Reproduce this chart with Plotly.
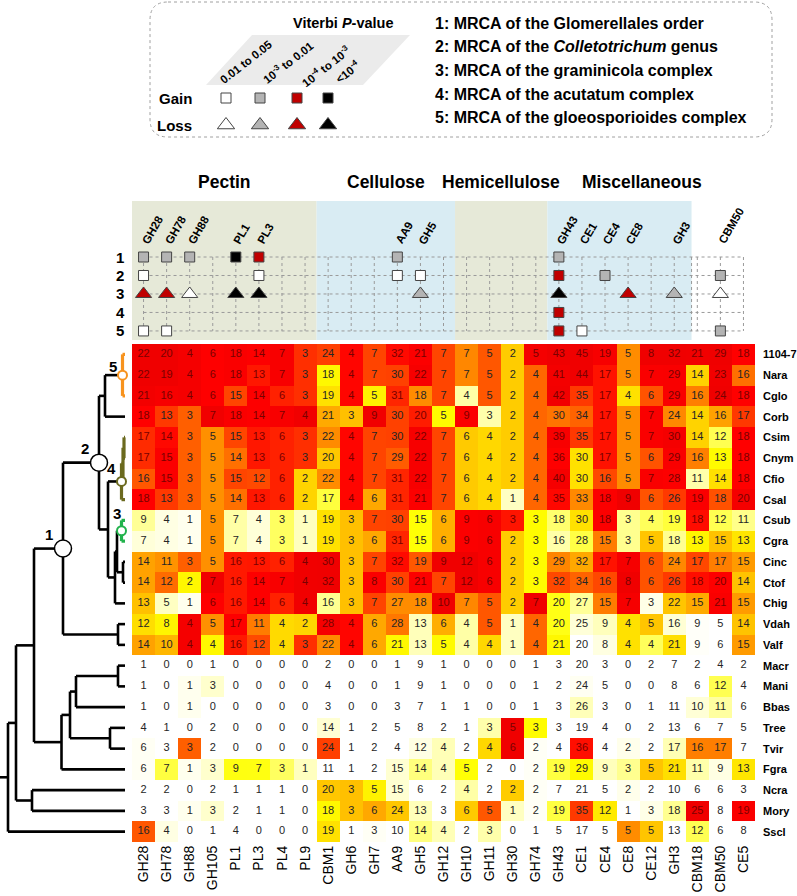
import numpy as np
import plotly.graph_objects as go

FONT = "Arial, 'Liberation Sans', sans-serif"
W, H = 797, 896

# ---------------- data ----------------
families = ["GH28", "GH78", "GH88", "GH105", "PL1", "PL3", "PL4", "PL9", "CBM1", "GH6", "GH7",
            "AA9", "GH5", "GH12", "GH10", "GH11", "GH30", "GH74", "GH43", "CE1", "CE4", "CE8",
            "CE12", "GH3", "CBM18", "CBM50", "CE5"]

species = ["1104-7", "Nara", "Cglo", "Corb", "Csim", "Cnym", "Cfio", "Csal", "Csub", "Cgra",
           "Cinc", "Ctof", "Chig", "Vdah", "Valf", "Macr", "Mani", "Bbas", "Tree", "Tvir",
           "Fgra", "Ncra", "Mory", "Sscl"]

r_1104_7 = [22, 20, 4, 6, 18, 14, 7, 3, 24, 4, 7, 32, 21, 7, 7, 5, 2, 5, 43, 45, 19, 5, 8, 32, 21, 29, 18]
r_nara = [22, 19, 4, 6, 18, 13, 7, 3, 18, 4, 7, 30, 22, 7, 7, 5, 2, 4, 41, 44, 17, 5, 7, 29, 14, 23, 16]
r_cglo = [21, 16, 4, 6, 15, 14, 6, 3, 19, 4, 5, 31, 18, 7, 4, 5, 2, 4, 42, 35, 17, 4, 6, 29, 16, 24, 18]
r_corb = [18, 13, 3, 7, 18, 14, 7, 4, 21, 3, 9, 30, 20, 5, 9, 3, 2, 4, 30, 34, 17, 5, 7, 24, 14, 16, 17]
r_csim = [17, 14, 3, 5, 15, 13, 6, 3, 22, 4, 7, 30, 22, 7, 6, 4, 2, 4, 39, 35, 17, 5, 7, 30, 14, 12, 18]
r_cnym = [17, 15, 3, 5, 14, 13, 6, 3, 20, 4, 7, 29, 22, 7, 6, 4, 2, 4, 36, 30, 17, 5, 6, 29, 16, 13, 18]
r_cfio = [16, 15, 3, 5, 15, 12, 6, 2, 22, 4, 7, 31, 22, 7, 6, 4, 2, 4, 40, 30, 16, 5, 7, 28, 11, 14, 18]
r_csal = [18, 13, 3, 5, 14, 13, 6, 2, 17, 4, 6, 31, 21, 7, 6, 4, 1, 4, 35, 33, 18, 9, 6, 26, 19, 18, 20]
r_csub = [9, 4, 1, 5, 7, 4, 3, 1, 19, 3, 7, 30, 15, 6, 9, 6, 3, 3, 18, 30, 18, 3, 4, 19, 18, 12, 11]
r_cgra = [7, 4, 1, 5, 7, 4, 3, 1, 19, 3, 6, 31, 15, 6, 9, 6, 2, 3, 16, 28, 15, 3, 5, 18, 13, 15, 13]
r_cinc = [14, 11, 3, 5, 16, 13, 6, 4, 30, 3, 7, 32, 19, 9, 12, 6, 2, 3, 29, 32, 17, 7, 6, 24, 17, 17, 15]
r_ctof = [14, 12, 2, 7, 16, 14, 7, 4, 32, 3, 8, 30, 21, 7, 12, 6, 2, 3, 32, 34, 16, 8, 6, 26, 18, 20, 14]
r_chig = [13, 5, 1, 6, 16, 14, 6, 4, 16, 3, 7, 27, 18, 10, 7, 5, 2, 7, 20, 27, 15, 7, 3, 22, 15, 21, 15]
r_vdah = [12, 8, 4, 5, 17, 11, 4, 2, 28, 4, 6, 28, 13, 6, 4, 5, 1, 4, 20, 25, 9, 4, 5, 16, 9, 5, 14]
r_valf = [14, 10, 4, 4, 16, 12, 4, 3, 22, 4, 6, 21, 13, 5, 4, 4, 1, 4, 21, 20, 8, 4, 4, 21, 9, 6, 15]
r_macr = [1, 0, 0, 1, 0, 0, 0, 0, 2, 0, 0, 1, 9, 1, 0, 0, 0, 1, 3, 20, 3, 0, 2, 7, 2, 4, 2]
r_mani = [1, 0, 1, 3, 0, 0, 0, 0, 4, 0, 0, 1, 9, 1, 0, 0, 0, 1, 2, 24, 5, 0, 0, 8, 6, 12, 4]
r_bbas = [1, 0, 1, 0, 0, 0, 0, 0, 3, 0, 0, 3, 7, 1, 1, 0, 0, 1, 3, 26, 3, 0, 1, 11, 10, 11, 6]
r_tree = [4, 1, 0, 2, 0, 0, 0, 0, 14, 1, 2, 5, 8, 2, 1, 3, 5, 3, 3, 19, 4, 0, 2, 13, 6, 7, 5]
r_tvir = [6, 3, 3, 2, 0, 0, 0, 0, 24, 1, 2, 4, 12, 4, 2, 4, 6, 2, 4, 36, 4, 2, 2, 17, 16, 17, 7]
r_fgra = [6, 7, 1, 3, 9, 7, 3, 1, 11, 1, 2, 15, 14, 4, 5, 2, 0, 2, 19, 29, 9, 3, 5, 21, 11, 9, 13]
r_ncra = [2, 2, 0, 2, 1, 1, 1, 0, 20, 3, 5, 15, 6, 2, 4, 2, 2, 2, 7, 21, 5, 2, 2, 10, 6, 6, 3]
r_mory = [3, 3, 1, 3, 2, 1, 1, 0, 18, 3, 6, 24, 13, 3, 6, 5, 1, 2, 19, 35, 12, 1, 3, 18, 25, 8, 19]
r_sscl = [16, 4, 0, 1, 4, 0, 0, 0, 19, 1, 3, 10, 14, 4, 2, 3, 0, 1, 5, 17, 5, 5, 5, 13, 12, 6, 8]

# gain / loss events at ancestral nodes (level: 1=0.01-0.05, 2=1e-3-0.01, 3=1e-4-1e-3, 4=<1e-4)
ev_node = [1, 1, 1, 1, 1, 1, 1,
           2, 2, 2, 2, 2, 2, 2,
           3, 3, 3, 3, 3, 3, 3, 3, 3, 3,
           4,
           5, 5, 5, 5, 5]
ev_family = ["GH28", "GH78", "GH88", "PL1", "PL3", "AA9", "GH43",
             "GH28", "PL3", "AA9", "GH5", "GH43", "CE4", "CBM50",
             "GH28", "GH78", "GH88", "PL1", "PL3", "GH5", "GH43", "CE8", "GH3", "CBM50",
             "GH43",
             "GH28", "GH78", "GH43", "CE1", "CBM50"]
ev_kind = ["gain"] * 14 + ["loss"] * 10 + ["gain"] * 6
ev_level = [2, 2, 2, 4, 3, 2, 2,
            1, 1, 1, 1, 3, 2, 2,
            3, 3, 1, 4, 4, 2, 4, 3, 2, 1,
            3,
            1, 1, 3, 1, 2]

groups = ["Pectin", "Cellulose", "Hemicellulose", "Miscellaneous"]
group_span = [(-0.5, 7.5), (7.5, 13.5), (13.5, 17.5), (17.5, 23.75)]
group_label_x = [3.5, 10.5, 15.5, 21.6]
group_fill = ["#e6e9d8", "#d9ecf3", "#e6e9d8", "#d9ecf3"]

level_names = ["0.01 to 0.05", "10<sup>-3</sup> to 0.01", "10<sup>-4</sup> to 10<sup>-3</sup>", "&lt;10<sup>-4</sup>"]
level_colors = ["#ffffff", "#b4b4b4", "#c00000", "#000000"]

node_desc = ["1: MRCA of the Glomerellales order",
             "2: MRCA of the <i>Colletotrichum</i> genus",
             "3: MRCA of the graminicola complex",
             "4: MRCA of the acutatum complex",
             "5: MRCA of the gloeosporioides complex"]

# phylogeny: (name, depth_px, children)
tree = ("root", 8, [
    ("a", 16, [
        ("b", 34, [
            ("n1", 63, [
                ("n2", 99, [
                    ("gl", 105, [("n5", 122.5, ["1104-7", "Nara", "Cglo"]), "Corb"]),
                    ("r", 108, [
                        ("n4", 121.5, [("x4", 123, [("x4b", 124, ["Csim", "Cnym"]), "Cfio"]), "Csal"]),
                        ("r2", 115, [("r3", 117, [("n3", 121.5, ["Csub", "Cgra"]),
                                                  ("ct", 123, ["Cinc", "Ctof"])]), "Chig"])])]),
                ("vv", 118, ["Vdah", "Valf"])]),
            ("out", 61.5, [("o2", 70, [("o3", 76, [("mm", 118, ["Macr", "Mani"]), "Bbas"]),
                                       ("tt", 110, ["Tree", "Tvir"])]), "Fgra"])]),
        ("nm", 32, ["Ncra", "Mory"])]),
    "Sscl"])
LEAF_X = 125
clade_color = {"n5": "#f7931e", "n4": "#6b6a1f", "n3": "#22b24c"}

counts = np.array([r_1104_7, r_nara, r_cglo, r_corb, r_csim, r_cnym, r_cfio, r_csal, r_csub,
                   r_cgra, r_cinc, r_ctof, r_chig, r_vdah, r_valf, r_macr, r_mani, r_bbas,
                   r_tree, r_tvir, r_fgra, r_ncra, r_mory, r_sscl], dtype=float)

# ---------------- figure ----------------
nr, nc = counts.shape
zs = (counts - counts.mean(axis=0)) / counts.std(axis=0)

cs = [[0.0, "#ffffff"], [0.22, "#ffffff"], [0.30, "#ffffd2"], [0.385, "#ffff96"],
      [0.465, "#ffff00"], [0.55, "#ffd200"], [0.615, "#ffa800"], [0.685, "#ff7800"],
      [0.75, "#ff3c00"], [0.815, "#ff0000"], [1.0, "#f00000"]]

fig = go.Figure()
fig.add_trace(go.Heatmap(z=zs, x=list(range(nc)), y=list(range(nr)), colorscale=cs,
                         zmin=-1.5, zmax=1.5, showscale=False, hoverinfo="skip",
                         xaxis="x", yaxis="y"))

xx, yy = np.meshgrid(range(nc), range(nr))
tcol = np.where(zs > 0.8, "#7a0000", "#262626").ravel()
fig.add_trace(go.Scatter(x=xx.ravel(), y=yy.ravel(), mode="text",
                         text=[str(int(v)) for v in counts.ravel()],
                         textfont=dict(size=11, color=list(tcol), family=FONT),
                         hoverinfo="skip", xaxis="x", yaxis="y"))

# --- tree ---
segs = {}
node_pos = {}


def add_seg(color, xs, ys):
    d = segs.setdefault(color, ([], []))
    d[0].extend(xs + [None])
    d[1].extend(ys + [None])


def draw(node, parent_x, outer_color):
    if isinstance(node, str):
        y = species.index(node)
        add_seg(outer_color, [parent_x, LEAF_X], [y, y])
        return y
    name, x, kids = node
    inner = clade_color.get(name, outer_color)
    ys = [draw(k, x, inner) for k in kids]
    y = (min(ys) + max(ys)) / 2
    add_seg(inner, [x, x], [min(ys), max(ys)])
    add_seg(outer_color, [parent_x, x], [y, y])
    node_pos[name] = (x, y)
    return y


draw(tree, 0, "#000000")
for color, (sx, sy) in segs.items():
    fig.add_trace(go.Scatter(x=sx, y=sy, mode="lines", hoverinfo="skip",
                             line=dict(color=color, width=2.6 if color == "#000000" else 3.2),
                             xaxis="x2", yaxis="y"))

big = ["n1", "n2"]
fig.add_trace(go.Scatter(x=[node_pos[n][0] for n in big], y=[node_pos[n][1] for n in big],
                         mode="markers", hoverinfo="skip",
                         marker=dict(size=17, color="white", line=dict(color="black", width=1.5)),
                         xaxis="x2", yaxis="y"))
small = ["n5", "n4", "n3"]
fig.add_trace(go.Scatter(x=[node_pos[n][0] for n in small], y=[node_pos[n][1] for n in small],
                         mode="markers", hoverinfo="skip",
                         marker=dict(size=9, color="white",
                                     line=dict(color=[clade_color[n] for n in small], width=2)),
                         xaxis="x2", yaxis="y"))

annotations = []
lab_off = {"n1": ("1", -14, 14), "n2": ("2", -14, 14), "n4": ("4", -10, 13),
           "n3": ("3", -5, 17), "n5": ("5", -10, 9)}
for n, (t, dx, dy) in lab_off.items():
    annotations.append(dict(x=node_pos[n][0], y=node_pos[n][1], xref="x2", yref="y",
                            text=f"<b>{t}</b>", showarrow=False, xshift=dx, yshift=dy,
                            font=dict(size=15, family=FONT, color="black")))

# species names to the right of the heatmap
for i, s in enumerate(species):
    annotations.append(dict(x=761, y=i, xref="x3", yref="y", text=f"<b>{s}</b>",
                            showarrow=False, xanchor="left",
                            font=dict(size=11, family=FONT, color="black")))

# --- gain/loss panel ---
gx, gy = [], []
for r in range(1, 6):
    gx += [0, nc - 1, None]
    gy += [r, r, None]
for c in range(nc):
    gx += [c, c, None]
    gy += [1, 5, None]
gx += [23.75, 23.75, None]
gy += [1, 5, None]
fig.add_trace(go.Scatter(x=gx, y=gy, mode="lines", hoverinfo="skip",
                         line=dict(color="#9a9a9a", width=1, dash="dot"),
                         xaxis="x", yaxis="y2"))

for kind, sym, size in [("gain", "square", 10), ("loss", "triangle-up", 14)]:
    idx = [i for i, k in enumerate(ev_kind) if k == kind]
    fig.add_trace(go.Scatter(
        x=[families.index(ev_family[i]) for i in idx], y=[ev_node[i] for i in idx],
        mode="markers", hoverinfo="skip",
        marker=dict(symbol=sym, size=size, color=[level_colors[ev_level[i] - 1] for i in idx],
                    line=dict(color="#444444", width=1)),
        xaxis="x", yaxis="y2"))

labelled = [f for f in families if f in ev_family]
for f in labelled:
    annotations.append(dict(x=families.index(f), y=0.55, xref="x", yref="y2",
                            text=f"<b>{f}</b>", showarrow=False, textangle=-60,
                            xanchor="left", yanchor="bottom", xshift=-7,
                            font=dict(size=11.5, family=FONT, color="black")))
for r in range(1, 6):
    annotations.append(dict(x=120, y=r, xref="x3", yref="y2", text=f"<b>{r}</b>",
                            showarrow=False, font=dict(size=15, family=FONT, color="black")))

shapes = []
for (x0, x1), col in zip(group_span, group_fill):
    shapes.append(dict(type="rect", xref="x", yref="y3", x0=x0, x1=x1, y0=201, y1=340,
                       fillcolor=col, line=dict(width=0), layer="below"))
for g, gxp in zip(groups, group_label_x):
    annotations.append(dict(x=gxp, y=182, xref="x", yref="y3", text=f"<b>{g}</b>",
                            showarrow=False, font=dict(size=17.5, family=FONT, color="black")))

# --- top legend box ---
bx0, bx1, by0, by1, rad = 150, 772, 2, 137, 18
box_path = (f"M {bx0 + rad},{by0} L {bx1 - rad},{by0} Q {bx1},{by0} {bx1},{by0 + rad} "
            f"L {bx1},{by1 - rad} Q {bx1},{by1} {bx1 - rad},{by1} L {bx0 + rad},{by1} "
            f"Q {bx0},{by1} {bx0},{by1 - rad} L {bx0},{by0 + rad} Q {bx0},{by0} {bx0 + rad},{by0} Z")
shapes.append(dict(type="path", xref="x3", yref="y3", path=box_path,
                   line=dict(color="#a0a0a0", width=1, dash="dot"), fillcolor="rgba(0,0,0,0)"))
shapes.append(dict(type="path", xref="x3", yref="y3",
                   path="M 252,35 L 410,35 L 363,85 L 206,85 Z",
                   fillcolor="#ebebeb", line=dict(width=0), layer="below"))

leg_x = [226, 260, 297, 328]
lab_pos = [(246, 62), (288, 62), (326, 66), (347, 72)]
for t, (lx, ly) in zip(level_names, lab_pos):
    annotations.append(dict(x=lx, y=ly, xref="x3", yref="y3", text=f"<b>{t}</b>",
                            showarrow=False, textangle=-38,
                            font=dict(size=11.5, family=FONT, color="black")))
fig.add_trace(go.Scatter(x=leg_x, y=[98] * 4, mode="markers", hoverinfo="skip",
                         marker=dict(symbol="square", size=10, color=level_colors,
                                     line=dict(color="#444444", width=1)),
                         xaxis="x3", yaxis="y3"))
fig.add_trace(go.Scatter(x=leg_x, y=[125] * 4, mode="markers", hoverinfo="skip",
                         marker=dict(symbol="triangle-up", size=15, color=level_colors,
                                     line=dict(color="#444444", width=1)),
                         xaxis="x3", yaxis="y3"))
annotations.append(dict(x=194, y=98, xref="x3", yref="y3", text="<b>Gain</b>", showarrow=False,
                        xanchor="right", font=dict(size=15, family=FONT, color="black")))
annotations.append(dict(x=194, y=125, xref="x3", yref="y3", text="<b>Loss</b>", showarrow=False,
                        xanchor="right", font=dict(size=15, family=FONT, color="black")))
annotations.append(dict(x=343, y=23, xref="x3", yref="y3", text="<b>Viterbi <i>P</i>-value</b>",
                        showarrow=False, font=dict(size=14.5, family=FONT, color="black")))
for i, t in enumerate(node_desc):
    annotations.append(dict(x=433, y=23 + i * 23.7, xref="x3", yref="y3", text=f"<b>{t}</b>",
                            showarrow=False, xanchor="left",
                            font=dict(size=16, family=FONT, color="black")))

fig.update_layout(
    width=W, height=H, margin=dict(l=0, r=0, t=0, b=0),
    paper_bgcolor="white", plot_bgcolor="rgba(0,0,0,0)", showlegend=False,
    font=dict(family=FONT, color="black"),
    xaxis=dict(domain=[132 / W, 755 / W], range=[-0.5, nc - 0.5], tickmode="array",
               tickvals=list(range(nc)), ticktext=families, tickangle=-90,
               tickfont=dict(size=14, family=FONT, color="black"), showgrid=False,
               zeroline=False, showline=False, ticks="", anchor="y"),
    yaxis=dict(domain=[1 - 842 / H, 1 - 344 / H], range=[nr - 0.5, -0.5],
               showticklabels=False, showgrid=False, zeroline=False, showline=False,
               ticks="", anchor="x"),
    xaxis2=dict(domain=[0, 132 / W], range=[0, 132], visible=False, anchor="y"),
    yaxis2=dict(domain=[1 - 340 / H, 1 - 201 / H], range=[5.49, -2.03], visible=False, anchor="x"),
    xaxis3=dict(domain=[0, 1], range=[0, W], visible=False, anchor="y3"),
    yaxis3=dict(domain=[0, 1], range=[H, 0], visible=False, anchor="x3"),
    shapes=shapes, annotations=annotations,
)

fig.write_html("out.html", config={"displayModeBar": False},
               post_script="document.body.style.margin='0px';document.body.style.overflow='hidden';")
